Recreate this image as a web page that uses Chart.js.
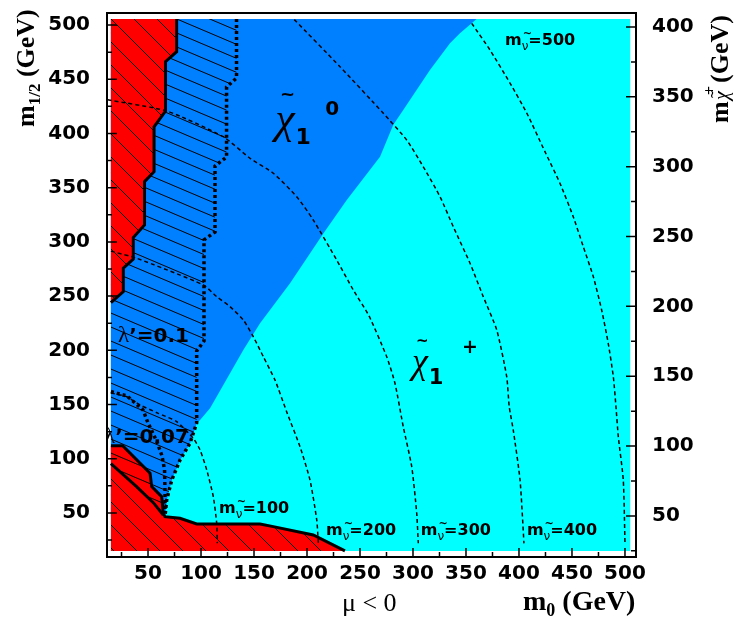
<!DOCTYPE html>
<html>
<head>
<meta charset="utf-8">
<script src="https://cdn.jsdelivr.net/npm/chart.js@4.4.1/dist/chart.umd.min.js"></script>
<style>
  html, body { margin: 0; padding: 0; background: #fff; overflow: hidden; }
  canvas { display: block; }
</style>
</head>
<body>
<canvas id="plot" width="745" height="619"></canvas>
<script>
// axis tick labels
const xTicks = [50, 100, 150, 200, 250, 300, 350, 400, 450, 500];
const yTicks = [50, 100, 150, 200, 250, 300, 350, 400, 450, 500];
const charginoTicks = [50, 100, 150, 200, 250, 300, 350, 400];

// scanned window in (m0, m1/2), GeV
const scanM0 = [15, 505];
const scanM12 = [15, 505.5];

// border between chi1^0 LSP (dark blue) and chi1^+ LSP (cyan), top to bottom
const lspEdge = [[360, 505.5], [344.3, 492.4], [334.9, 483.1], [316, 458.5], [290.8, 421.6], [281.4, 408],
  [268.9, 378.6], [237.5, 338.6], [215.4, 307.8], [184, 261.8], [155.7, 224.9], [139.9, 200.3],
  [108.5, 146.5], [99.1, 135.8], [96, 132.7]];

// lambda' = 0.1 excluded region edge (thick dotted)
const lambda01 = [[133.5, 505.5], [133.5, 451.1], [124.1, 442.8], [124.1, 378.3], [113.2, 370], [113.2, 309.1],
  [102.8, 301.8], [102.8, 208.6], [95.9, 199.4], [95.9, 133], [89.6, 114.3], [80.2, 98.9], [72.4, 80.4],
  [67.6, 62], [66, 46.6]];

// lambda' = 0.07 edge
const lambda007 = [[15, 162], [30.2, 157.9], [45.3, 145], [50, 133], [58.5, 115.5], [63.2, 102.6],
  [65.6, 89.7], [66, 71.2], [66, 50]];

// theoretically forbidden strip, upper left (red)
const forbiddenEdge = [[77, 505.5], [77, 475.4], [66.5, 466.2], [66.5, 420.6], [55.7, 406.2], [55.7, 364.7],
  [46.7, 355.5], [46.7, 315.6], [36.1, 304.1], [36.1, 284.2], [26.7, 275.7], [26.7, 254.1], [15, 244]];

// LEP excluded region, bottom (red)
const lepEdge = [[15, 112.1], [26.1, 112.1], [51.9, 86.6], [53.5, 74.3], [62.9, 65], [64.4, 49.7], [66, 46.6],
  [80.2, 45.1], [95.9, 39.9], [155.7, 39.9], [168.2, 37.4], [205.9, 29.7], [235.8, 15]];
const lepInner = [[15, 95.5], [39.2, 74.3], [55, 59.5], [64.4, 48.2]];

// sneutrino iso-mass lines
const sneu100 = [[15, 160.6], [29.9, 157.2], [42.5, 149.6], [59.7, 141.9], [77.1, 134.2], [92.7, 118.9],
  [99.1, 108.1], [105.4, 89.7], [111.6, 65], [114.8, 40.5], [115.4, 22]];
const sneu200 = [[15, 291.5], [39.3, 284.9], [102.2, 260.3], [114.8, 249.5], [127.4, 240.3], [139.9, 228],
  [149.3, 212.6], [158.8, 194.1], [169.8, 172.6], [180.8, 143.4], [193.4, 111.1], [202.8, 80.4],
  [209.2, 43.5], [210.7, 22]];
const sneu300 = [[12, 431], [67.6, 420.7], [121, 397], [146.2, 377.1], [168.2, 363.3], [190.3, 341.7],
  [205.9, 320.2], [228, 283.3], [243.7, 255.6], [258.5, 231.7], [275.2, 194.1], [283, 169.6],
  [290.8, 129.6], [298.8, 92.7], [303.5, 49.7], [305, 22]];
const sneu400 = [[188, 505], [231.1, 461.6], [272, 418.6], [294, 394], [309.7, 369.3], [325.5, 341.7],
  [338, 314], [353.8, 280.3], [366.3, 249.5], [379, 218.8], [388.4, 175.7], [390.8, 148], [394.6, 126.5],
  [401, 80.4], [404.7, 22]];
const sneu500 = [[355.4, 501.6], [372.6, 477], [391.5, 446.5], [407.3, 418.9], [424.5, 383.2], [438.7, 354],
  [451.2, 323.2], [460.7, 295.5], [470.1, 268], [478, 237.2], [484.2, 206.5], [489, 175.7], [491.5, 148],
  [493.7, 120.4], [498.4, 80.4], [500, 22]];

const RED = '#ff0000';
const BLUE = '#0080ff';
const CYAN = '#00ffff';

function hatch(base, w, h) {
  const c = document.createElement('canvas');
  c.width = w; c.height = h;
  const g = c.getContext('2d');
  g.fillStyle = base;
  g.fillRect(0, 0, w, h);
  g.strokeStyle = '#000';
  g.lineWidth = 1;
  g.beginPath();
  for (const dy of [-h, 0, h]) { g.moveTo(0, dy); g.lineTo(w, dy + h); }
  g.stroke();
  return g.createPattern(c, 'repeat');
}

const pts = arr => arr.map(([x, y]) => ({x, y}));

function area(data, color, order) {
  return { data: pts(data), fill: 'shape', backgroundColor: color, borderColor: 'rgba(0,0,0,0)',
    borderWidth: 0, pointRadius: 0, tension: 0, order };
}
function curve(data, width, dash, order, tension) {
  return { data: pts(data), fill: false, borderColor: '#000', borderWidth: width, borderDash: dash,
    borderCapStyle: 'butt', pointRadius: 0, tension: tension || 0, order };
}

const scanBox = [[scanM0[0], scanM12[0]], [scanM0[1], scanM12[0]], [scanM0[1], scanM12[1]], [scanM0[0], scanM12[1]]];
const blueArea = [[scanM0[0], scanM12[1]], ...lspEdge, ...lambda01.slice(10), [scanM0[0], 46.6]];
const hatchedArea = [[scanM0[0], scanM12[1]], ...lambda01, [scanM0[0], 46.6]];
const forbiddenArea = [[scanM0[0], scanM12[1]], ...forbiddenEdge];
const lepArea = [...lepEdge, [scanM0[0], scanM12[0]]];
const stripArea = [...lepEdge.slice(0, 6), ...lepInner.slice().reverse()];

const redHatch = hatch(RED, 23, 23);
const blueHatch = hatch(BLUE, 33, 14);
const stripHatch = hatch(RED, 33, 14);

const datasets = [
  area(scanBox, CYAN, 9),
  area(blueArea, BLUE, 8),
  area(hatchedArea, blueHatch, 7),
  area(forbiddenArea, redHatch, 6),
  area(lepArea, redHatch, 5),
  area(stripArea, stripHatch, 4),
  curve(forbiddenEdge, 3, [], 3),
  curve(lepEdge, 3, [], 3),
  curve(lepInner, 3, [], 3),
  curve(lambda01, 3.5, [3, 3], 2),
  curve(lambda007, 3.5, [3, 3], 2),
  curve(sneu100, 1.5, [4, 3], 1, 0.2),
  curve(sneu200, 1.5, [4, 3], 1, 0.2),
  curve(sneu300, 1.5, [4, 3], 1, 0.2),
  curve(sneu400, 1.5, [4, 3], 1, 0.2),
  curve(sneu500, 1.5, [4, 3], 1, 0.2)
];

const SANS = '"DejaVu Sans", Verdana, sans-serif';
const SERIF = '"Liberation Serif", "Times New Roman", serif';

function parts(ctx, x, y, list) {
  let cx = x;
  for (const p of list) {
    ctx.font = p.f;
    ctx.fillText(p.t, cx + (p.dx || 0), y + (p.dy || 0));
    cx += ctx.measureText(p.t).width + (p.dx || 0);
  }
  return cx;
}

function sneuLabel(ctx, x, y, mass) {
  ctx.font = 'bold 16px ' + SANS;
  ctx.fillText('m', x, y);
  const wm = ctx.measureText('m').width;
  ctx.font = '12px ' + SANS;
  ctx.fillText('ν', x + wm, y + 5);
  const wn = ctx.measureText('ν').width;
  ctx.font = 'bold 11px ' + SANS;
  ctx.fillText('~', x + wm + 1, y - 8);
  ctx.font = 'bold 16px ' + SANS;
  ctx.fillText('=' + mass, x + wm + wn, y);
}

function chiLabel(ctx, x, y, size, sub, sup, supSize, supDx, supDy) {
  ctx.font = 'italic ' + size + 'px ' + SERIF;
  ctx.fillText('χ', x, y);
  const w = ctx.measureText('χ').width;
  ctx.font = 'bold ' + Math.round(size * 0.42) + 'px ' + SANS;
  ctx.fillText('~', x + w * 0.25, y - size * 0.75);
  ctx.font = 'bold ' + sub + 'px ' + SANS;
  ctx.fillText('1', x + w + 1, y + 11);
  ctx.font = 'bold ' + supSize + 'px ' + SANS;
  ctx.fillText(sup, x + supDx, y + supDy);
}

const decor = {
  id: 'decor',
  afterDatasetsDraw(chart) {
    const {ctx, chartArea: a, scales: {x, y, y2}} = chart;
    const P = (vx, vy) => [x.getPixelForValue(vx), y.getPixelForValue(vy)];
    ctx.save();
    ctx.fillStyle = '#000';
    ctx.textBaseline = 'alphabetic';
    ctx.textAlign = 'left';

    // labels inside the frame
    let p = P(170, 400);
    chiLabel(ctx, p[0], p[1], 44, 22, '0', 20, 50, -18);
    p = P(299, 179);
    chiLabel(ctx, p[0], p[1], 36, 21, '+', 19, 50, -20);

    ctx.save();
    ctx.beginPath();
    ctx.rect(a.left, a.top, a.right - a.left, a.bottom - a.top);
    ctx.clip();
    p = P(21.7, 207.7);
    parts(ctx, p[0], p[1], [{t: 'λ', f: '23px ' + SERIF}, {t: '’=0.1', f: 'bold 20px ' + SANS}]);
    p = P(8.5, 114.6);
    parts(ctx, p[0], p[1], [{t: 'λ', f: '23px ' + SERIF}, {t: '’=0.07', f: 'bold 20px ' + SANS}]);
    ctx.restore();

    p = P(117, 50); sneuLabel(ctx, p[0], p[1], 100);
    p = P(217.9, 29.7); sneuLabel(ctx, p[0], p[1], 200);
    p = P(307.3, 29.7); sneuLabel(ctx, p[0], p[1], 300);
    p = P(407.5, 29.7); sneuLabel(ctx, p[0], p[1], 400);
    p = P(386.8, 481.6); sneuLabel(ctx, p[0], p[1], 500);

    // frame and inward ticks
    ctx.strokeStyle = '#000';
    ctx.lineWidth = 2;
    ctx.strokeRect(a.left, a.top, a.right - a.left, a.bottom - a.top);
    ctx.lineWidth = 1.5;
    ctx.beginPath();
    xTicks.forEach(v => {
      let px = x.getPixelForValue(v);
      ctx.moveTo(px, a.bottom); ctx.lineTo(px, a.bottom - 9);
      px = x.getPixelForValue(v - 25);
      ctx.moveTo(px, a.bottom); ctx.lineTo(px, a.bottom - 5);
    });
    yTicks.forEach(v => {
      let py = y.getPixelForValue(v);
      ctx.moveTo(a.left, py); ctx.lineTo(a.left + 10, py);
      py = y.getPixelForValue(v - 25);
      ctx.moveTo(a.left, py); ctx.lineTo(a.left + 5, py);
    });
    charginoTicks.forEach(v => {
      let py = y2.getPixelForValue(v);
      ctx.moveTo(a.right, py); ctx.lineTo(a.right - 10, py);
      py = y2.getPixelForValue(v - 25);
      ctx.moveTo(a.right, py); ctx.lineTo(a.right - 5, py);
    });
    ctx.stroke();
    ctx.restore();
  },
  afterDraw(chart) {
    const {ctx} = chart;
    ctx.save();
    ctx.fillStyle = '#000';
    ctx.textBaseline = 'alphabetic';
    ctx.textAlign = 'left';

    // left title
    ctx.save();
    ctx.translate(34, 127);
    ctx.rotate(-Math.PI / 2);
    parts(ctx, 0, 0, [
      {t: 'm', f: 'bold 26px ' + SERIF},
      {t: '1/2', f: 'bold 17px ' + SERIF, dy: 6},
      {t: ' (GeV)', f: 'bold 26px ' + SERIF}
    ]);
    ctx.restore();

    // right title
    ctx.save();
    ctx.translate(728, 123);
    ctx.rotate(-Math.PI / 2);
    ctx.font = 'bold 26px ' + SERIF;
    ctx.fillText('m', 0, 0);
    ctx.font = 'italic 20px ' + SERIF;
    ctx.fillText('χ', 23, 0);
    ctx.font = 'bold 11px ' + SANS;
    ctx.fillText('~', 24, -12);
    ctx.font = 'bold 16px ' + SERIF;
    ctx.fillText('+', 28, -13);
    ctx.font = 'bold 26px ' + SERIF;
    ctx.fillText('(GeV)', 40, 0);
    ctx.restore();

    // bottom titles
    parts(ctx, 523, 610, [
      {t: 'm', f: 'bold 28px ' + SERIF},
      {t: '0', f: 'bold 18px ' + SERIF, dy: 6},
      {t: ' (GeV)', f: 'bold 28px ' + SERIF}
    ]);
    parts(ctx, 342, 611, [
      {t: 'μ', f: '26px ' + SERIF},
      {t: ' < 0', f: '26px ' + SERIF}
    ]);
    ctx.restore();
  }
};

const tickFont = { family: 'DejaVu Sans', size: 20, weight: 'bold' };
const noPad = s => { s.paddingTop = 0; s.paddingBottom = 0; s.paddingLeft = 0; s.paddingRight = 0; };

new Chart(document.getElementById('plot'), {
  type: 'line',
  data: { datasets },
  options: {
    responsive: false,
    animation: false,
    devicePixelRatio: 1,
    layout: { padding: { top: 13, left: 0, right: 0, bottom: 0 } },
    plugins: { legend: { display: false }, tooltip: { enabled: false } },
    scales: {
      x: {
        type: 'linear', min: 11.3, max: 510.4,
        grid: { display: false, drawTicks: false },
        border: { display: false },
        afterBuildTicks: s => { s.ticks = xTicks.map(v => ({value: v})); },
        afterFit: s => { s.height = 62; noPad(s); },
        ticks: { font: tickFont, color: '#000', padding: 5, maxRotation: 0, autoSkip: false }
      },
      y: {
        type: 'linear', position: 'left', min: 9.4, max: 511.1,
        grid: { display: false, drawTicks: false },
        border: { display: false },
        afterBuildTicks: s => { s.ticks = yTicks.map(v => ({value: v})); },
        afterFit: s => { s.width = 107; noPad(s); },
        ticks: { font: tickFont, color: '#000', padding: 17, autoSkip: false }
      },
      y2: {
        type: 'linear', position: 'right', min: 20.6, max: 410,
        grid: { display: false, drawTicks: false },
        border: { display: false },
        afterBuildTicks: s => { s.ticks = charginoTicks.map(v => ({value: v})); },
        afterFit: s => { s.width = 109; noPad(s); },
        ticks: { font: tickFont, color: '#000', padding: 16, autoSkip: false }
      }
    }
  },
  plugins: [decor]
});
</script>
</body>
</html>
